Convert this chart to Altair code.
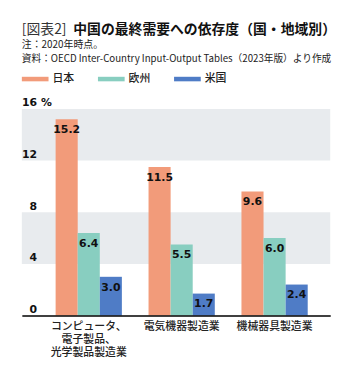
import altair as alt
import pandas as pd

categories = ["コンピュータ、\n電子製品、\n光学製品製造業", "電気機器製造業", "機械器具製造業"]
series = ["日本", "欧州", "米国"]
japan = [15.2, 11.5, 9.6]
europe = [6.4, 5.5, 6.0]
usa = [3.0, 1.7, 2.4]
colors = ["#F29B7A", "#88CEC0", "#4F7CC6"]
y_ticks = [0, 4, 8, 12, 16]
band_lo = [4, 12]
band_hi = [8, 16]

title_prefix = "[図表2]"
title_main = "中国の最終需要への依存度（国・地域別）"
note1 = "注：2020年時点。"
note2 = "資料：OECD Inter-Country Input-Output Tables（2023年版）より作成"

rows = []
for vals, s in zip([japan, europe, usa], series):
    for c, v in zip(categories, vals):
        rows.append({"category": c, "series": s, "value": v})
df = pd.DataFrame(rows)
bands = pd.DataFrame({"lo": band_lo, "hi": band_hi})

W, H = 312, 209
JP = "Noto Sans CJK JP"
NUM = "DejaVu Sans"

xscale = alt.Scale(domain=categories, paddingInner=0.287, paddingOuter=0.303, align=0.6)
yscale = alt.Scale(domain=[0, 16], nice=False)

band_layer = alt.Chart(bands).mark_rect(color="#E8EBEE").encode(
    x=alt.value(0), x2=alt.value(W),
    y=alt.Y("lo:Q", scale=yscale), y2="hi:Q",
)

base = alt.Chart(df).encode(
    x=alt.X("category:N", scale=xscale, sort=categories,
            axis=alt.Axis(title=None, labelAngle=0, ticks=False, domainColor="#000",
                          domainWidth=1.5, labelPadding=5, labelFont=JP, labelFontSize=11,
                          labelFontWeight=500, labelColor="#222", labelLineHeight=13,
                          labelBaseline="top", labelOverlap=False, zindex=1,
                          labelExpr="split(datum.label, '\\n')")),
    xOffset=alt.XOffset("series:N", sort=series, scale=alt.Scale(paddingInner=0, paddingOuter=0)),
)

bars = base.mark_bar().encode(
    y=alt.Y("value:Q", scale=yscale,
            axis=alt.Axis(values=y_ticks, grid=False, domain=False, ticks=False, tickSize=0,
                          labelAlign="right", labelBaseline="bottom", labelPadding=-15,
                          labelOffset=-1, labelOverlap=False, labelFlush=False, zindex=1,
                          labelFont=NUM, labelFontSize=11,
                          labelFontWeight="bold", labelColor="#111",
                          title="%", titleAngle=0, titleX=19, titleY=-1, titleAlign="left",
                          titleBaseline="bottom", titleFont=NUM, titleFontSize=11,
                          titleFontWeight="bold", titleColor="#111")),
    color=alt.Color("series:N", sort=series, scale=alt.Scale(domain=series, range=colors),
                    legend=alt.Legend(title=None, orient="none", legendX=0, legendY=-44,
                                      direction="horizontal", columnPadding=24,
                                      symbolType="M-1,-0.17L1,-0.17L1,0.17L-1,0.17Z",
                                      symbolSize=729, symbolStrokeWidth=0, symbolOpacity=1,
                                      labelOffset=4, labelFont=JP, labelFontSize=11,
                                      labelFontWeight=500, labelColor="#222")),
)

labels = base.mark_text(baseline="top", dy=5, font=NUM, fontSize=11, fontWeight="bold",
                        color="#111").encode(
    y=alt.Y("value:Q", scale=yscale),
    text=alt.Text("value:Q", format=".1f"),
)

def txt(s, x, y, size, weight="normal", color="#222"):
    return alt.Chart(pd.DataFrame({"t": [s]})).mark_text(
        align="left", baseline="middle", font=JP, fontSize=size, fontWeight=weight,
        color=color).encode(text="t:N", x=alt.value(x), y=alt.value(y))

header = (txt(title_prefix, 0, -80, 14, "normal", "#333")
          + txt(title_main, 52, -80, 14, "bold", "#111")
          + txt(note1, 0, -64.5, 10)
          + txt(note2, 0, -50, 9.8))

chart = alt.layer(band_layer, bars, labels, header).properties(
    width=W, height=H,
    autosize=alt.AutoSizeParams(type="none"),
    padding={"left": 14, "top": 100, "right": 20, "bottom": 56},
).configure_view(stroke=None)

chart.save("out.html", embed_options={"renderer": "svg", "actions": False})
